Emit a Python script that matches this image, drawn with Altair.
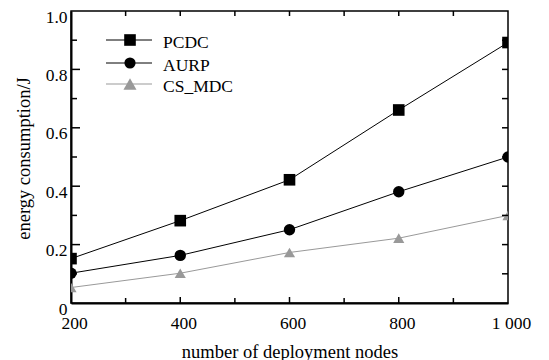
import altair as alt
import pandas as pd

# ---- data ----
nodes = [200, 400, 600, 800, 1000]
series = ["PCDC", "AURP", "CS_MDC"]
pcdc = [0.152, 0.282, 0.422, 0.661, 0.892]
aurp = [0.102, 0.163, 0.251, 0.381, 0.50]
cs_mdc = [0.053, 0.102, 0.173, 0.222, 0.30]
x_labels = [200, 400, 600, 800, 1000]
y_labels = [0, 0.2, 0.4, 0.6, 0.8, 1.0]
x_major = [400, 600, 800]
x_minor = [300, 500, 700, 900]
y_major = [0.2, 0.4, 0.6, 0.8]
y_minor = [0.1, 0.3, 0.5, 0.7, 0.9]

# ---- styles ----
colors = ["#000000", "#000000", "#999999"]
shapes = ["square", "circle", "triangle-up"]
sizes = [135, 125, 170]
FONT = "Liberation Serif"
W, H = 437, 292

rows = []
for name, vals in zip(series, [pcdc, aurp, cs_mdc]):
    for n, v in zip(nodes, vals):
        rows.append({"series": name, "nodes": n, "energy": v})
df = pd.DataFrame(rows)

xs = alt.Scale(domain=[200, 1000], nice=False, zero=False)
ys = alt.Scale(domain=[0, 1], nice=False, zero=False)

xaxis = alt.Axis(
    values=x_labels,
    labelExpr="datum.value == 1000 ? '1 000' : datum.label",
    ticks=False, grid=False, domainColor="black", domainWidth=2,
    labelFont=FONT, labelFontSize=17.5, labelColor="black",
    labelBaseline="top", labelPadding=11, labelOffset=3,
    labelFlush=False, labelOverlap=False,
    title="number of deployment nodes", titleFont=FONT, titleFontSize=18.5,
    titleFontWeight="normal", titleColor="black",
    titleX=W / 2, titleY=54, titleBaseline="alphabetic", titleAlign="center",
)
yaxis = alt.Axis(
    values=y_labels,
    labelExpr="datum.value == 0 ? '0 ' : format(datum.value, '.1f')",
    ticks=False, grid=False, domainColor="black", domainWidth=2,
    labelFont=FONT, labelFontSize=17.5, labelColor="black",
    labelBaseline="middle", labelPadding=4, labelOffset=6,
    labelFlush=False, labelOverlap=False,
    title="energy consumption/J", titleFont=FONT, titleFontSize=18.5,
    titleFontWeight="normal", titleColor="black",
    titleX=-42, titleY=147, titleBaseline="alphabetic", titleAlign="center",
    titleAngle=270,
)

color = alt.Color("series:N", scale=alt.Scale(domain=series, range=colors), legend=None)
base = alt.Chart(df)
lines = base.mark_line(strokeWidth=1, clip=True).encode(
    x=alt.X("nodes:Q", scale=xs, axis=xaxis),
    y=alt.Y("energy:Q", scale=ys, axis=yaxis),
    color=color,
)
points = base.mark_point(filled=True, opacity=1, clip=True).encode(
    x=alt.X("nodes:Q", scale=xs, axis=xaxis),
    y=alt.Y("energy:Q", scale=ys, axis=yaxis),
    color=color,
    shape=alt.Shape("series:N", scale=alt.Scale(domain=series, range=shapes), legend=None),
    size=alt.Size("series:N", scale=alt.Scale(domain=series, range=sizes), legend=None),
)

def xticks(vals, y0, y1):
    return alt.Chart(pd.DataFrame({"nodes": vals})).mark_rule(color="black", strokeWidth=1.5).encode(
        x=alt.X("nodes:Q", scale=xs, axis=xaxis), y=alt.value(y0), y2=alt.value(y1))

def yticks(vals, x0, x1):
    return alt.Chart(pd.DataFrame({"energy": vals})).mark_rule(color="black", strokeWidth=1.5).encode(
        y=alt.Y("energy:Q", scale=ys, axis=yaxis), x=alt.value(x0), x2=alt.value(x1))

ticks = [
    xticks(x_major, H, H - 6), xticks(x_minor, H, H - 5),
    xticks(x_major, 0, 5), xticks(x_minor, 0, 5),
    yticks(y_major, 0, 9), yticks(y_minor, 0, 6),
    yticks(y_major, W, W - 6), yticks(y_minor, W, W - 6),
]

legend_rows = [29, 52, 73]
legend = []
for i, name in enumerate(series):
    ldf = pd.DataFrame({"s": [name]})
    legend.append(alt.Chart(ldf).mark_rule(color=colors[i], strokeWidth=1).encode(
        x=alt.value(35), x2=alt.value(81), y=alt.value(legend_rows[i])))
    legend.append(alt.Chart(ldf).mark_point(filled=True, opacity=1, shape=shapes[i],
                                            size=sizes[i], color=colors[i]).encode(
        x=alt.value(59), y=alt.value(legend_rows[i])))
    legend.append(alt.Chart(ldf).mark_text(align="left", baseline="middle", font=FONT,
                                           fontSize=17.5, color="black").encode(
        x=alt.value(92), y=alt.value(legend_rows[i] + 3), text="s:N"))

chart = alt.layer(lines, points, *ticks, *legend).properties(
    width=W, height=H,
    autosize=alt.AutoSizeParams(type="none"),
    padding={"left": 63, "top": 3, "right": 33, "bottom": 57},
    background="white",
).configure_view(stroke="black", strokeWidth=1.5)

chart.save("out.html", embed_options={"renderer": "svg", "actions": False})
